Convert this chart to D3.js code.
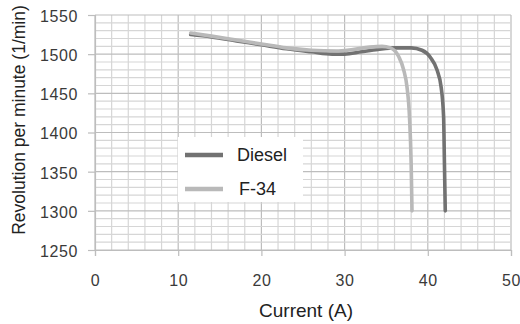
<!DOCTYPE html>
<html>
<head>
<meta charset="utf-8">
<script src="https://cdn.jsdelivr.net/npm/d3@7"></script>
<style>
  body { margin: 0; background: #fff; }
  text { font-family: "Liberation Sans", Arial, sans-serif; }
</style>
</head>
<body>
<script>
// data
var dieselCurrent = [11.5, 14, 17, 20, 23, 26, 28.5, 30, 32, 34, 36, 38, 39.3, 40.3, 41.1, 41.6, 41.9, 42.0, 42.1];
var dieselRpm     = [1525, 1522, 1517, 1512, 1507, 1503, 1500, 1500, 1503, 1506, 1508, 1508, 1505, 1496, 1480, 1458, 1420, 1360, 1300];
var f34Current = [11.5, 14, 17, 20, 23, 26, 29, 31, 33, 34.5, 35.5, 36.5, 37.1, 37.5, 37.8, 38.0, 38.1];
var f34Rpm     = [1527, 1523, 1518, 1513, 1508, 1505, 1504, 1506, 1509, 1510, 1508, 1497, 1480, 1458, 1420, 1360, 1300];
var xTicks = [0, 10, 20, 30, 40, 50];
var yTicks = [1250, 1300, 1350, 1400, 1450, 1500, 1550];
var seriesNames = ["Diesel", "F-34"];

var svgWidth = 520, svgHeight = 324;
var margin = {top: 15, right: 9, bottom: 74, left: 95};

var svg = d3.select("body").append("svg")
  .attr("width", svgWidth)
  .attr("height", svgHeight);

var xscale = d3.scaleLinear().domain([0, 50]).range([margin.left, svgWidth - margin.right]);
var yscale = d3.scaleLinear().domain([1250, 1550]).range([svgHeight - margin.bottom, margin.top]);

// grid, minor every 2 A / 10 rpm, major ones a bit darker
svg.append("g").selectAll("line")
  .data(d3.range(0, 51, 2))
  .enter().append("line")
  .attr("x1", d => xscale(d)).attr("x2", d => xscale(d))
  .attr("y1", yscale(1250)).attr("y2", yscale(1550))
  .attr("stroke", d => d % 10 == 0 ? "#bdbdbd" : "#d6d6d6")
  .attr("stroke-width", 1.2);

svg.append("g").selectAll("line")
  .data(d3.range(1250, 1551, 10))
  .enter().append("line")
  .attr("y1", d => yscale(d)).attr("y2", d => yscale(d))
  .attr("x1", xscale(0)).attr("x2", xscale(50))
  .attr("stroke", d => d % 50 == 0 ? "#bdbdbd" : "#d6d6d6")
  .attr("stroke-width", 1.2);

// axes
var leftAxis = d3.axisLeft(yscale).tickValues(yTicks).tickFormat(d3.format("d")).tickSize(7).tickPadding(10);
var bottomAxis = d3.axisBottom(xscale).tickValues(xTicks).tickFormat(d3.format("d")).tickSize(6).tickPadding(19);

var gy = svg.append("g").attr("transform", `translate(${xscale(0)},0)`).call(leftAxis);
var gx = svg.append("g").attr("transform", `translate(0,${yscale(1250)})`).call(bottomAxis);

[gx, gy].forEach(function(g) {
  g.select(".domain").attr("stroke", "#bdbdbd").attr("stroke-width", 1.2);
  g.selectAll(".tick line").attr("stroke", "#bdbdbd").attr("stroke-width", 1.2);
  g.selectAll(".tick text")
    .attr("fill", "#3a3a3a")
    .style("font-size", "16px")
    .style("letter-spacing", "0.6px")
    .style("font-family", "'Liberation Sans', Arial, sans-serif");
});
gy.selectAll(".tick text").attr("dy", "0.4em");

// lines
var line = d3.line()
  .x(d => xscale(d[0]))
  .y(d => yscale(d[1]))
  .curve(d3.curveMonotoneX);

var dieselData = dieselCurrent.map((c, i) => [c, dieselRpm[i]]);
var f34Data = f34Current.map((c, i) => [c, f34Rpm[i]]);

svg.append("path")
  .datum(dieselData)
  .attr("d", line)
  .attr("fill", "none")
  .attr("stroke", "#727272")
  .attr("stroke-width", 3.6)
  .attr("stroke-linecap", "round");

svg.append("path")
  .datum(f34Data)
  .attr("d", line)
  .attr("fill", "none")
  .attr("stroke", "#b9b9b9")
  .attr("stroke-width", 3.6)
  .attr("stroke-linecap", "round");

// legend
var legend = svg.append("g");
legend.append("rect")
  .attr("x", 178).attr("y", 137)
  .attr("width", 125).attr("height", 65)
  .attr("fill", "#fff");

var legendColors = ["#727272", "#b9b9b9"];
seriesNames.forEach(function(name, i) {
  var ly = 155 + i * 34;
  legend.append("line")
    .attr("x1", 185).attr("x2", 223)
    .attr("y1", ly).attr("y2", ly)
    .attr("stroke", legendColors[i])
    .attr("stroke-width", 4.5);
  legend.append("text")
    .attr("x", 237 + i * 2)
    .attr("y", ly + 6)
    .attr("fill", "#222")
    .style("font-size", "18px")
    .text(name);
});

// axis titles
svg.append("text")
  .attr("x", xscale(25) + 3)
  .attr("y", 317)
  .attr("text-anchor", "middle")
  .attr("fill", "#222")
  .style("font-size", "19px")
  .text("Current (A)");

svg.append("text")
  .attr("transform", "translate(25,120) rotate(-90)")
  .attr("text-anchor", "middle")
  .attr("fill", "#222")
  .style("font-size", "17.5px")
  .text("Revolution per minute (1/min)");
</script>
</body>
</html>
